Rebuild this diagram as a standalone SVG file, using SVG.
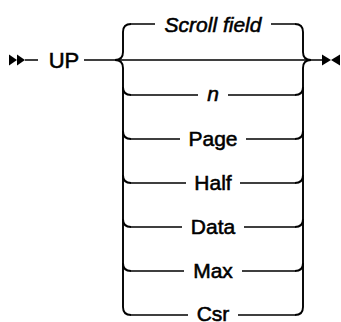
<svg xmlns="http://www.w3.org/2000/svg" width="341" height="322" viewBox="0 0 341 322">
<style>
.ln{fill:none;stroke:#000;stroke-width:1.5;stroke-linecap:butt}
.br{fill:none;stroke:#000;stroke-width:1.9}
.t{font-family:"Liberation Sans",Arial,sans-serif;font-size:21px;fill:#000;stroke:#000;stroke-width:0.55;text-anchor:middle}
.i{font-style:italic}
.mk{fill:#000}
</style>
<rect width="341" height="322" fill="#fff"/>
<g id="start">
<polygon class="mk" points="9,54.5 17,60 9,65.5"/>
<polygon class="mk" points="17,54.5 25,60 17,65.5"/>
</g>
<g id="kw-up"><text class="t" x="64" y="67.5" style="font-size:22px">UP</text></g>
<g id="opt-scroll"><text class="t i" x="213" y="31.5">Scroll field</text></g>
<g id="opt-n"><text class="t i" x="213" y="101">n</text></g>
<g id="opt-page"><text class="t" x="213" y="146">Page</text></g>
<g id="opt-half"><text class="t" x="213" y="190">Half</text></g>
<g id="opt-data"><text class="t" x="213" y="234">Data</text></g>
<g id="opt-max"><text class="t" x="213" y="278">Max</text></g>
<g id="opt-csr"><text class="t" x="213" y="321">Csr</text></g>
<g id="end">
<polygon class="mk" points="322,54.5 331,60 322,65.5"/>
<polygon class="mk" points="340,54.5 331,60 340,65.5"/>
</g>
<g id="connectors">
<path class="ln" d="M25,60 H38 M84,60 H115 M115,60 H311 M311,60 H322"/>
<path class="br" d="M131,24 Q123,24 123,32 V52 Q123,60 115,60 Q123,60 123,68 V307 Q123,315 131,315"/>
<path class="br" d="M295,24 Q303,24 303,32 V52 Q303,60 311,60 Q303,60 303,68 V307 Q303,315 295,315"/>
<path class="br" d="M123,87 Q123,95 131,95 M123,131 Q123,139 131,139 M123,175 Q123,183 131,183 M123,219 Q123,227 131,227 M123,263 Q123,271 131,271"/>
<path class="br" d="M303,87 Q303,95 295,95 M303,131 Q303,139 295,139 M303,175 Q303,183 295,183 M303,219 Q303,227 295,227 M303,263 Q303,271 295,271"/>
<path class="ln" d="M131,24 H155 M271,24 H295"/>
<path class="ln" d="M131,95 H198 M228,95 H295"/>
<path class="ln" d="M131,139 H180 M246,139 H295"/>
<path class="ln" d="M131,183 H186 M240,183 H295"/>
<path class="ln" d="M131,227 H182 M244,227 H295"/>
<path class="ln" d="M131,271 H184 M242,271 H295"/>
<path class="ln" d="M131,315 H188 M238,315 H295"/>
</g>
</svg>
